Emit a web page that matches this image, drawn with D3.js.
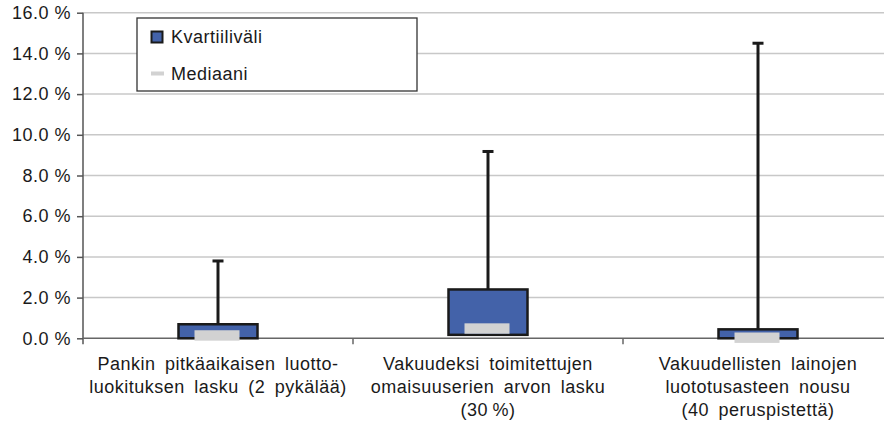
<!DOCTYPE html>
<meta charset="utf-8">
<head>
<style>
  body { margin: 0; background: #fff; }
  text { font-family: "Liberation Sans", Arial, sans-serif; fill: #1a1a1a; font-size: 18px; letter-spacing: 0.5px; }
  .grid line { stroke: #c8c8c8; stroke-width: 1.5; }
</style>
<script src="https://cdn.jsdelivr.net/npm/d3@7"></script>
</head>
<body>
<script>
// values in percent
var categories = [
  ["Pankin pitkäaikaisen luotto-", "luokituksen lasku (2 pykälää)"],
  ["Vakuudeksi toimitettujen", "omaisuuserien arvon lasku", "(30 %)"],
  ["Vakuudellisten lainojen", "luototusasteen nousu", "(40 peruspistettä)"]
];
var q1 = [0.0, 0.17, 0.0];
var q3 = [0.69, 2.40, 0.44];
var median = [0.14, 0.48, 0.03];
var whiskerTop = [3.80, 9.18, 14.5];
var yTicks = [0, 2, 4, 6, 8, 10, 12, 14, 16];
var legendLabels = ["Kvartiiliväli", "Mediaani"];

var width = 884, height = 423;
var mLeft = 83, mRight = 893, mTop = 12.7, mBottom = 338.3;

var svg = d3.select("body").append("svg")
    .attr("width", width)
    .attr("height", height);

var x = d3.scaleBand().domain(d3.range(categories.length)).range([mLeft, mRight]);
var y = d3.scaleLinear().domain([0, 16]).range([mBottom, mTop]);

// gridlines
svg.append("g").attr("class", "grid")
  .selectAll("line").data(yTicks.slice(1)).enter().append("line")
    .attr("x1", mLeft).attr("x2", width)
    .attr("y1", function(d) { return y(d); })
    .attr("y2", function(d) { return y(d); });

// y axis
var yAxis = d3.axisLeft(y).tickValues(yTicks).tickSize(6).tickPadding(6)
    .tickFormat(function(d) { return d.toFixed(1) + " %"; });
var gy = svg.append("g").attr("transform", "translate(" + mLeft + ",0)").call(yAxis);
gy.select(".domain").attr("stroke", "#555").attr("stroke-width", 1.5)
  .attr("d", "M0," + mTop + "V" + (mBottom + 6));
gy.selectAll(".tick line").attr("stroke", "#555").attr("stroke-width", 1.5);
gy.selectAll(".tick text").style("font-size", "18px").attr("fill", "#1a1a1a")
  .attr("font-family", null);

// x axis
var gx = svg.append("g").attr("transform", "translate(0," + mBottom + ")");
gx.append("line").attr("x1", mLeft).attr("x2", width)
  .attr("stroke", "#666").attr("stroke-width", 1.5);
gx.selectAll(".sep").data(d3.range(1, categories.length)).enter().append("line")
  .attr("x1", function(d) { return x(d); }).attr("x2", function(d) { return x(d); })
  .attr("y1", 0).attr("y2", 6)
  .attr("stroke", "#666").attr("stroke-width", 1.5);

var labels = gx.selectAll(".cat").data(categories).enter().append("text")
  .attr("text-anchor", "middle")
  .attr("transform", function(d, i) { return "translate(" + (x(i) + x.bandwidth() / 2) + ",0)"; });
labels.selectAll("tspan").data(function(d) { return d; }).enter().append("tspan")
  .attr("x", 0)
  .attr("y", function(d, i) { return 32 + i * 22.7; })
  .style("word-spacing", function(d) { return d.indexOf("%") >= 0 ? "-1px" : "4px"; })
  .text(function(d) { return d; });

// boxes
var boxW = 79, medW = 45, capW = 11;
var boxes = svg.append("g").selectAll("g").data(categories).enter().append("g")
  .attr("transform", function(d, i) { return "translate(" + (x(i) + x.bandwidth() / 2) + ",0)"; });

boxes.append("line")
  .attr("x1", 0).attr("x2", 0)
  .attr("y1", function(d, i) { return y(q3[i]); })
  .attr("y2", function(d, i) { return y(whiskerTop[i]); })
  .attr("stroke", "#1a1a1a").attr("stroke-width", 3);
boxes.append("rect")
  .attr("x", -capW / 2).attr("width", capW)
  .attr("y", function(d, i) { return y(whiskerTop[i]) - 1.5; })
  .attr("height", 3)
  .attr("fill", "#1a1a1a");
boxes.append("rect")
  .attr("x", -boxW / 2).attr("width", boxW)
  .attr("y", function(d, i) { return y(q3[i]); })
  .attr("height", function(d, i) { return y(q1[i]) - y(q3[i]); })
  .attr("fill", "#4362a9")
  .attr("stroke", "#1a1a1a").attr("stroke-width", 2.5);
boxes.append("rect")
  .attr("x", -medW / 2 - 1).attr("width", medW)
  .attr("y", function(d, i) { return y(median[i]) - 5.2; })
  .attr("height", 10.4)
  .attr("fill", "#d2d2d2");

// legend
var lg = svg.append("g").attr("transform", "translate(137,18)");
lg.append("rect").attr("width", 280).attr("height", 73)
  .attr("fill", "#fff").attr("stroke", "#333").attr("stroke-width", 1.3);
lg.append("rect").attr("x", 14.5).attr("y", 13.5).attr("width", 11).attr("height", 11)
  .attr("fill", "#4362a9").attr("stroke", "#1a1a1a").attr("stroke-width", 2);
lg.append("rect").attr("x", 14).attr("y", 53.5).attr("width", 13).attr("height", 4)
  .attr("fill", "#d2d2d2");
lg.selectAll(".lt").data(legendLabels).enter().append("text")
  .attr("x", 34)
  .attr("y", function(d, i) { return 25 + i * 37; })
  .text(function(d) { return d; });
</script>
</body>
